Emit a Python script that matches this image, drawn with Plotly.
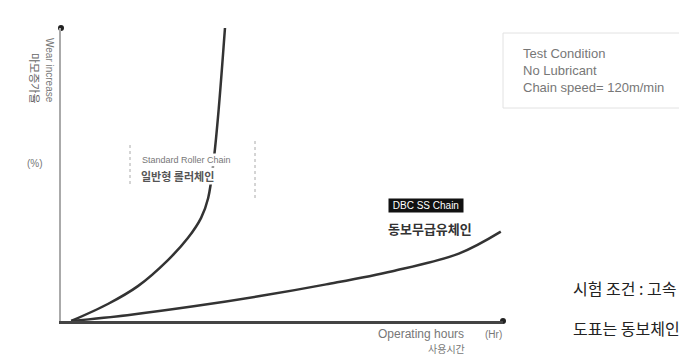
import plotly.graph_objects as go

# running hours (relative) vs wear increase (%)
std_hours = [2.3, 10.6, 17.4, 24.2, 28.7, 31.7, 33.3, 34.6, 35.7, 37.1]
std_wear = [0, 5.8, 11.9, 20.8, 28.3, 35.2, 42.0, 55.6, 72.7, 100]

dbc_hours = [2.3, 15, 30, 45, 60, 75, 90, 99.5]
dbc_wear = [0, 2, 5, 8.5, 12.5, 17, 23, 30.5]

W, H = 687, 356
L, R, T, B = 53, 192, 20, 43

def px(x):
    return (x - L) / (W - L - R)

def py(y):
    return 1 - (y - T) / (H - T - B)

fig = go.Figure()
fig.add_trace(go.Scatter(x=std_hours, y=std_wear, mode="lines", line_shape="spline",
                         line=dict(color="#333", width=2.5), showlegend=False))
fig.add_trace(go.Scatter(x=dbc_hours, y=dbc_wear, mode="lines", line_shape="spline",
                         line=dict(color="#333", width=2.5), showlegend=False))

# axis end dots
fig.add_trace(go.Scatter(x=[0, 100], y=[100, 0], mode="markers",
                         marker=dict(color="#222", size=6), showlegend=False, cliponaxis=False))

gray = "#777"
kr = "Noto Sans CJK KR"
en = "Liberation Sans"

def note(x, y, text, size, color=gray, family=kr, xanchor="center", **kw):
    fig.add_annotation(x=px(x), y=py(y), xref="paper", yref="paper", text=text,
                       xanchor=xanchor, yanchor="middle", showarrow=False,
                       font=dict(family=family, size=size, color=color), **kw)

# y axis title
note(27, 70, "마모증가율", 11, color="#666", textangle=90)
note(42, 62, "Wear increase", 10, family=en, textangle=90)
note(27, 155, "(%)", 10, family=en)

# standard roller chain label
note(132, 152, "Standard Roller Chain", 9, family=en, xanchor="left", bgcolor="white", borderpad=1)
note(132, 168, "<b>일반형 롤러체인</b>", 11, color="#555", xanchor="left", bgcolor="white", borderpad=0)
for xp, y0, y1 in [(122, 137, 178), (247, 133, 193)]:
    fig.add_shape(type="line", xref="paper", yref="paper", x0=px(xp), x1=px(xp),
                  y0=py(y0), y1=py(y1), line=dict(color="#aaa", width=1, dash="dot"))

# DBC chain label
note(418, 197, " DBC SS Chain ", 10, color="white", family=en, bgcolor="#111", borderpad=1)
note(422, 220, "<b>동보무급유체인</b>", 13, color="#333")

# x axis title
note(413, 326, "Operating hours", 12, family=en)
note(485, 326, "(Hr)", 10, family=en)
note(438, 340, "사용시간", 10)

# test condition box
fig.add_shape(type="rect", xref="paper", yref="paper", x0=px(495), x1=px(700),
              y0=py(100), y1=py(25), line=dict(color="#e2e2e2", width=1))
note(513, 62, "Test Condition<br>No Lubricant<br>Chain speed= 120m/min", 13,
     family=en, xanchor="left", align="left")

# note text at the bottom right
note(563, 280, "시험 조건 : 고속 무급유", 16, color="#222", xanchor="left")
note(563, 320, "도표는 동보체인 자료", 16, color="#222", xanchor="left")

fig.update_xaxes(range=[0, 100], showgrid=False, zeroline=False, showticklabels=False,
                 showline=True, linecolor="#444", linewidth=3, ticks="")
fig.update_yaxes(range=[0, 100], showgrid=False, zeroline=False, showticklabels=False,
                 showline=True, linecolor="#aaa", linewidth=2, ticks="")
fig.update_layout(width=W, height=H, margin=dict(l=L, r=R, t=T, b=B),
                  plot_bgcolor="white", paper_bgcolor="white")
fig.write_html("out.html")
